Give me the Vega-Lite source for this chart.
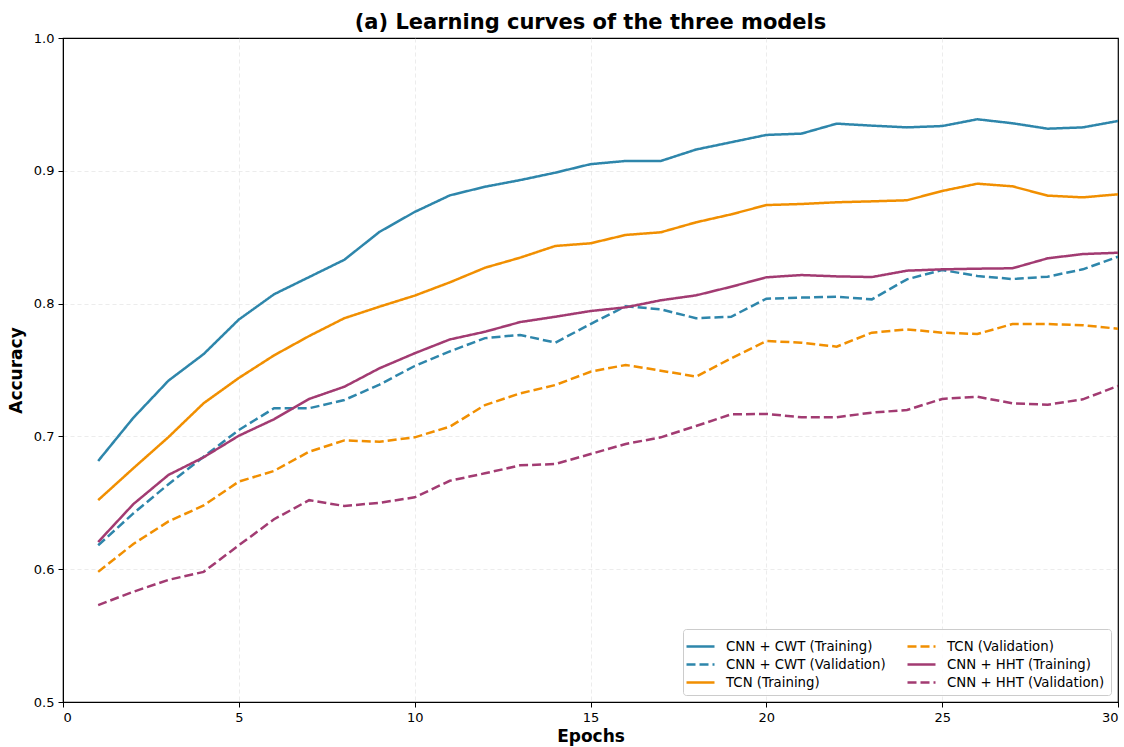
{
  "$schema": "https://vega.github.io/schema/vega-lite/v6.json",
  "width": 1055,
  "height": 664,
  "autosize": {"type": "none"},
  "padding": {"left": 63, "top": 38, "right": 6, "bottom": 45},
  "background": "white",
  "config": {
    "font": "DejaVu Sans",
    "view": {"stroke": "black", "strokeWidth": 1.2},
    "axis": {
      "labelFont": "DejaVu Sans",
      "labelFontSize": 13,
      "labelColor": "black",
      "titleFont": "DejaVu Sans",
      "titleFontSize": 17,
      "titleFontWeight": "bold",
      "titleColor": "black",
      "domainColor": "black",
      "tickColor": "black",
      "tickSize": 5,
      "gridColor": "#dddddd",
      "gridDash": [4, 3],
      "gridWidth": 0.8,
      "gridOpacity": {"condition": {"test": "datum.value == 30 || datum.value == 1 || datum.value == 0 || datum.value == 0.5", "value": 0}, "value": 0.7}
    }
  },
  "title": {
    "text": "(a) Learning curves of the three models",
    "fontSize": 21,
    "fontWeight": "bold",
    "font": "DejaVu Sans",
    "anchor": "middle",
    "offset": -1,
    "color": "black"
  },
  "datasets": {
    "curves": [
      {"epoch": 1, "CNN + CWT (Training)": 0.6815, "CNN + CWT (Validation)": 0.618, "TCN (Training)": 0.652, "TCN (Validation)": 0.598, "CNN + HHT (Training)": 0.6205, "CNN + HHT (Validation)": 0.573},
      {"epoch": 2, "CNN + CWT (Training)": 0.714, "CNN + CWT (Validation)": 0.642, "TCN (Training)": 0.676, "TCN (Validation)": 0.619, "CNN + HHT (Training)": 0.649, "CNN + HHT (Validation)": 0.583},
      {"epoch": 3, "CNN + CWT (Training)": 0.742, "CNN + CWT (Validation)": 0.664, "TCN (Training)": 0.6995, "TCN (Validation)": 0.636, "CNN + HHT (Training)": 0.671, "CNN + HHT (Validation)": 0.592},
      {"epoch": 4, "CNN + CWT (Training)": 0.762, "CNN + CWT (Validation)": 0.6847, "TCN (Training)": 0.725, "TCN (Validation)": 0.648, "CNN + HHT (Training)": 0.6843, "CNN + HHT (Validation)": 0.598},
      {"epoch": 5, "CNN + CWT (Training)": 0.788, "CNN + CWT (Validation)": 0.7048, "TCN (Training)": 0.744, "TCN (Validation)": 0.666, "CNN + HHT (Training)": 0.7005, "CNN + HHT (Validation)": 0.618},
      {"epoch": 6, "CNN + CWT (Training)": 0.807, "CNN + CWT (Validation)": 0.7212, "TCN (Training)": 0.761, "TCN (Validation)": 0.674, "CNN + HHT (Training)": 0.7129, "CNN + HHT (Validation)": 0.6376},
      {"epoch": 7, "CNN + CWT (Training)": 0.820, "CNN + CWT (Validation)": 0.7212, "TCN (Training)": 0.7756, "TCN (Validation)": 0.6885, "CNN + HHT (Training)": 0.7282, "CNN + HHT (Validation)": 0.652},
      {"epoch": 8, "CNN + CWT (Training)": 0.833, "CNN + CWT (Validation)": 0.7274, "TCN (Training)": 0.789, "TCN (Validation)": 0.697, "CNN + HHT (Training)": 0.7374, "CNN + HHT (Validation)": 0.6476},
      {"epoch": 9, "CNN + CWT (Training)": 0.854, "CNN + CWT (Validation)": 0.739, "TCN (Training)": 0.7977, "TCN (Validation)": 0.696, "CNN + HHT (Training)": 0.7513, "CNN + HHT (Validation)": 0.650},
      {"epoch": 10, "CNN + CWT (Training)": 0.869, "CNN + CWT (Validation)": 0.753, "TCN (Training)": 0.806, "TCN (Validation)": 0.6993, "CNN + HHT (Training)": 0.7626, "CNN + HHT (Validation)": 0.6541},
      {"epoch": 11, "CNN + CWT (Training)": 0.8815, "CNN + CWT (Validation)": 0.764, "TCN (Training)": 0.816, "TCN (Validation)": 0.7073, "CNN + HHT (Training)": 0.773, "CNN + HHT (Validation)": 0.6666},
      {"epoch": 12, "CNN + CWT (Training)": 0.888, "CNN + CWT (Validation)": 0.774, "TCN (Training)": 0.827, "TCN (Validation)": 0.7236, "CNN + HHT (Training)": 0.7788, "CNN + HHT (Validation)": 0.6722},
      {"epoch": 13, "CNN + CWT (Training)": 0.893, "CNN + CWT (Validation)": 0.7764, "TCN (Training)": 0.8346, "TCN (Validation)": 0.7324, "CNN + HHT (Training)": 0.7861, "CNN + HHT (Validation)": 0.6782},
      {"epoch": 14, "CNN + CWT (Training)": 0.8986, "CNN + CWT (Validation)": 0.7706, "TCN (Training)": 0.8434, "TCN (Validation)": 0.7387, "CNN + HHT (Training)": 0.7901, "CNN + HHT (Validation)": 0.6792},
      {"epoch": 15, "CNN + CWT (Training)": 0.905, "CNN + CWT (Validation)": 0.7846, "TCN (Training)": 0.8454, "TCN (Validation)": 0.7487, "CNN + HHT (Training)": 0.7944, "CNN + HHT (Validation)": 0.6867},
      {"epoch": 16, "CNN + CWT (Training)": 0.9074, "CNN + CWT (Validation)": 0.798, "TCN (Training)": 0.8517, "TCN (Validation)": 0.7538, "CNN + HHT (Training)": 0.7972, "CNN + HHT (Validation)": 0.6943},
      {"epoch": 17, "CNN + CWT (Training)": 0.9074, "CNN + CWT (Validation)": 0.7957, "TCN (Training)": 0.8537, "TCN (Validation)": 0.7495, "CNN + HHT (Training)": 0.8025, "CNN + HHT (Validation)": 0.6993},
      {"epoch": 18, "CNN + CWT (Training)": 0.916, "CNN + CWT (Validation)": 0.789, "TCN (Training)": 0.8612, "TCN (Validation)": 0.745, "CNN + HHT (Training)": 0.8062, "CNN + HHT (Validation)": 0.7078},
      {"epoch": 19, "CNN + CWT (Training)": 0.9215, "CNN + CWT (Validation)": 0.7901, "TCN (Training)": 0.8672, "TCN (Validation)": 0.7588, "CNN + HHT (Training)": 0.8127, "CNN + HHT (Validation)": 0.7166},
      {"epoch": 20, "CNN + CWT (Training)": 0.927, "CNN + CWT (Validation)": 0.8037, "TCN (Training)": 0.8742, "TCN (Validation)": 0.7718, "CNN + HHT (Training)": 0.8198, "CNN + HHT (Validation)": 0.7169},
      {"epoch": 21, "CNN + CWT (Training)": 0.928, "CNN + CWT (Validation)": 0.8045, "TCN (Training)": 0.875, "TCN (Validation)": 0.7706, "CNN + HHT (Training)": 0.8215, "CNN + HHT (Validation)": 0.7144},
      {"epoch": 22, "CNN + CWT (Training)": 0.9355, "CNN + CWT (Validation)": 0.8052, "TCN (Training)": 0.8763, "TCN (Validation)": 0.7676, "CNN + HHT (Training)": 0.8205, "CNN + HHT (Validation)": 0.7144},
      {"epoch": 23, "CNN + CWT (Training)": 0.934, "CNN + CWT (Validation)": 0.8032, "TCN (Training)": 0.877, "TCN (Validation)": 0.7781, "CNN + HHT (Training)": 0.820, "CNN + HHT (Validation)": 0.7179},
      {"epoch": 24, "CNN + CWT (Training)": 0.9327, "CNN + CWT (Validation)": 0.8183, "TCN (Training)": 0.8778, "TCN (Validation)": 0.7806, "CNN + HHT (Training)": 0.8248, "CNN + HHT (Validation)": 0.7199},
      {"epoch": 25, "CNN + CWT (Training)": 0.9337, "CNN + CWT (Validation)": 0.8253, "TCN (Training)": 0.8848, "TCN (Validation)": 0.7781, "CNN + HHT (Training)": 0.8258, "CNN + HHT (Validation)": 0.7282},
      {"epoch": 26, "CNN + CWT (Training)": 0.9388, "CNN + CWT (Validation)": 0.8208, "TCN (Training)": 0.8903, "TCN (Validation)": 0.7771, "CNN + HHT (Training)": 0.8263, "CNN + HHT (Validation)": 0.7299},
      {"epoch": 27, "CNN + CWT (Training)": 0.9358, "CNN + CWT (Validation)": 0.8185, "TCN (Training)": 0.8883, "TCN (Validation)": 0.7846, "CNN + HHT (Training)": 0.8266, "CNN + HHT (Validation)": 0.7249},
      {"epoch": 28, "CNN + CWT (Training)": 0.9317, "CNN + CWT (Validation)": 0.8203, "TCN (Training)": 0.8813, "TCN (Validation)": 0.7846, "CNN + HHT (Training)": 0.8341, "CNN + HHT (Validation)": 0.7239},
      {"epoch": 29, "CNN + CWT (Training)": 0.9327, "CNN + CWT (Validation)": 0.8258, "TCN (Training)": 0.880, "TCN (Validation)": 0.7837, "CNN + HHT (Training)": 0.8373, "CNN + HHT (Validation)": 0.7279},
      {"epoch": 30, "CNN + CWT (Training)": 0.9375, "CNN + CWT (Validation)": 0.8353, "TCN (Training)": 0.8823, "TCN (Validation)": 0.7811, "CNN + HHT (Training)": 0.8383, "CNN + HHT (Validation)": 0.738}
    ]
  },
  "data": {"name": "curves"},
  "transform": [
    {"fold": ["CNN + CWT (Training)", "CNN + CWT (Validation)", "TCN (Training)", "TCN (Validation)", "CNN + HHT (Training)", "CNN + HHT (Validation)"], "as": ["series", "accuracy"]}
  ],
  "mark": {"type": "line", "strokeWidth": 2.5, "clip": true},
  "encoding": {
    "x": {
      "field": "epoch",
      "type": "quantitative",
      "scale": {"domain": [0, 30], "nice": false, "zero": false},
      "axis": {"values": [0, 5, 10, 15, 20, 25, 30], "title": "Epochs", "titlePadding": 4, "labelPadding": 4}
    },
    "y": {
      "field": "accuracy",
      "type": "quantitative",
      "scale": {"domain": [0.5, 1.0], "nice": false, "zero": false},
      "axis": {"values": [0.5, 0.6, 0.7, 0.8, 0.9, 1.0], "format": ".1f", "title": "Accuracy", "titlePadding": 8, "labelPadding": 4}
    },
    "color": {
      "field": "series",
      "type": "nominal",
      "scale": {
        "domain": ["CNN + CWT (Training)", "CNN + CWT (Validation)", "TCN (Training)", "TCN (Validation)", "CNN + HHT (Training)", "CNN + HHT (Validation)"],
        "range": ["#2E86AB", "#2E86AB", "#F18F01", "#F18F01", "#A23B72", "#A23B72"]
      },
      "legend": {
        "title": null,
        "orient": "bottom-right",
        "columns": 2,
        "offset": 7,
        "labelFontSize": 13.3,
        "labelFont": "DejaVu Sans",
        "labelColor": "black",
        "labelLimit": 300,
        "labelOffset": 14,
        "symbolType": "M-1.4,0H1.4",
        "symbolSize": 400,
        "symbolStrokeWidth": 2.5,
        "columnPadding": 16,
        "rowPadding": 0,
        "padding": 6,
        "fillColor": "rgba(255,255,255,0.85)",
        "strokeColor": "#cccccc",
        "cornerRadius": 3
      }
    },
    "strokeDash": {
      "field": "series",
      "type": "nominal",
      "scale": {
        "domain": ["CNN + CWT (Training)", "CNN + CWT (Validation)", "TCN (Training)", "TCN (Validation)", "CNN + HHT (Training)", "CNN + HHT (Validation)"],
        "range": [[1, 0], [9, 4], [1, 0], [9, 4], [1, 0], [9, 4]]
      },
      "legend": null
    },
    "order": {"field": "epoch"}
  }
}
